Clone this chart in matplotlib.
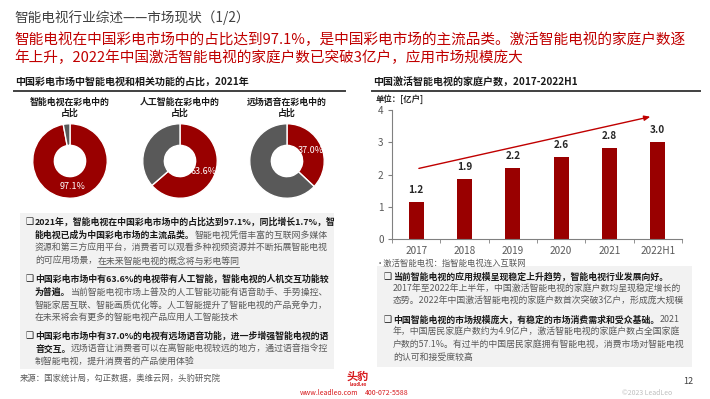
#!/usr/bin/env python3
"""Smart TV market overview slide: three donuts, a bar chart and text boxes."""

import math
import matplotlib
matplotlib.use("Agg")
import matplotlib.pyplot as plt
from matplotlib.patches import Rectangle

plt.rcParams["font.family"] = ["Noto Sans CJK SC", "DejaVu Sans"]

# --- data -------------------------------------------------------------------
donut_titles = ["智能电视在彩电中的\n占比", "人工智能在彩电中的\n占比", "远场语音在彩电中的\n占比"]
donut_shares = [97.1, 63.6, 37.0]

years = ["2017", "2018", "2019", "2020", "2021", "2022H1"]
households = [1.15, 1.86, 2.19, 2.55, 2.83, 3.02]
household_labels = ["1.2", "1.9", "2.2", "2.6", "2.8", "3.0"]
y_ticks = [0, 1, 2, 3, 4]

RED = "#990000"
GREY = "#595959"
TXT = "#595959"
DARK = "#1a1a1a"

W, H = 710, 399
fig = plt.figure(figsize=(W / 100, H / 100), dpi=100)
fig.patch.set_facecolor("white")

# pixel-coordinate canvas for all the slide text
bg = fig.add_axes([0, 0, 1, 1])
bg.set_xlim(0, W)
bg.set_ylim(H, 0)
bg.axis("off")

renderer = fig.canvas.get_renderer()


def rich_line(x, y, parts, size=6.4):
    """Write a line made of (text, bold, underline) pieces one after another."""
    for txt, bold, under in parts:
        t = bg.text(x, y, txt, fontsize=size, fontweight="bold" if bold else "normal",
                    color=DARK if bold else TXT, ha="left", va="center")
        w = t.get_window_extent(renderer=renderer).width
        if under:
            bg.plot([x, x + w], [y + 5.5, y + 5.5], color=TXT, lw=0.6)
        x += w


# header
bg.text(14, 18, "智能电视行业综述——市场现状（1/2）", fontsize=9.8, color="#404040",
        ha="left", va="center")
bg.text(14, 40, "智能电视在中国彩电市场中的占比达到97.1%，是中国彩电市场的主流品类。激活智能电视的家庭户数逐",
        fontsize=10.55, color="#C00000", ha="left", va="center")
bg.text(14, 58, "年上升，2022年中国激活智能电视的家庭户数已突破3亿户，应用市场规模庞大",
        fontsize=10.55, color="#C00000", ha="left", va="center")

# section headings
bg.text(15, 83, "中国彩电市场中智能电视和相关功能的占比，2021年", fontsize=7.2,
        fontweight="bold", color=DARK, ha="left", va="center")
bg.plot([14, 345], [91, 91], color="#404040", lw=1.4)
bg.text(373, 83, "中国激活智能电视的家庭户数，2017-2022H1", fontsize=7.2,
        fontweight="bold", color=DARK, ha="left", va="center")
bg.plot([372, 700], [91, 91], color="#404040", lw=1.4)

# --- donuts -----------------------------------------------------------------
centers = [70, 180, 287]
cy, rad = 161, 38
for cx, title, share in zip(centers, donut_titles, donut_shares):
    ax = fig.add_axes([(cx - rad) / W, (H - cy - rad) / H, 2 * rad / W, 2 * rad / H])
    ax.pie([share, 100 - share], colors=[RED, GREY], startangle=90, counterclock=False,
           wedgeprops=dict(width=0.58, edgecolor="white", linewidth=1.0), radius=1)
    ax.set_xlim(-1.02, 1.02)
    ax.set_ylim(-1.02, 1.02)
    ax.set_aspect("equal")
    ang = math.radians(90 - share * 3.6 / 2)
    ax.text(0.68 * math.cos(ang), 0.68 * math.sin(ang), f"{share:.1f}%", color="white",
            fontsize=6.5, ha="center", va="center")
    bg.text(cx, 107.5, title, fontsize=6.4, fontweight="bold", color=DARK,
            ha="center", va="center", linespacing=1.25)

# --- bar chart --------------------------------------------------------------
x0, x1, ytop, ybot = 392, 682, 110, 239
bax = fig.add_axes([x0 / W, (H - ybot) / H, (x1 - x0) / W, (ybot - ytop) / H])
pos = list(range(len(years)))
bax.bar(pos, households, width=0.31, color=RED)
for p, v, lab in zip(pos, households, household_labels):
    bax.annotate(lab, (p, v), xytext=(0, 5), textcoords="offset points", ha="center",
                 va="bottom", fontsize=7.2, fontweight="bold", color="#262626")
bax.set_xlim(-0.5, len(years) - 0.5)
bax.set_ylim(0, 4)
bax.set_yticks(y_ticks)
bax.set_xticks(pos)
bax.set_xticklabels(years)
bax.set_xticks([p - 0.5 for p in pos] + [len(years) - 0.5], minor=True)
bax.tick_params(axis="x", which="major", length=0, labelsize=7.2, labelcolor=TXT, pad=5)
bax.tick_params(axis="x", which="minor", length=3, color="#808080")
bax.tick_params(axis="y", length=3, color="#808080", labelsize=7.2, labelcolor=TXT, pad=3)
for s in ["top", "right"]:
    bax.spines[s].set_visible(False)
for s in ["left", "bottom"]:
    bax.spines[s].set_color("#808080")
    bax.spines[s].set_linewidth(0.8)
bax.annotate("", xy=(4.9, 3.81), xytext=(0.0, 2.17),
             arrowprops=dict(arrowstyle="-|>,head_length=0.35,head_width=0.15",
                             color="#C00000", lw=1.0))

bg.text(376, 99, "单位：[亿户]", fontsize=6, fontweight="bold", color="#262626",
        ha="left", va="center")
bg.text(376, 263, "•激活智能电视：指智能电视连入互联网", fontsize=6, color=TXT,
        ha="left", va="center")

# --- left text box ----------------------------------------------------------
bg.add_patch(Rectangle((20, 213), 314, 156, facecolor="#F2F2F2", edgecolor="none"))
left_lines = [
    (222, True, [("2021年，智能电视在中国彩电市场中的占比达到97.1%，同比增长1.7%，智", True, False)]),
    (235, False, [("能电视已成为中国彩电市场的主流品类。", True, False),
                  ("智能电视凭借丰富的互联网多媒体", False, False)]),
    (248, False, [("资源和第三方应用平台，消费者可以观看多种视频资源并不断拓展智能电视", False, False)]),
    (261, False, [("的可应用场景，", False, False), ("在未来智能电视的概念将与彩电等同", False, True)]),
    (279, True, [("中国彩电市场中有63.6%的电视带有人工智能，智能电视的人机交互功能较", True, False)]),
    (292, False, [("为普遍。", True, False),
                  ("当前智能电视市场上普及的人工智能功能有语音助手、手势操控、", False, False)]),
    (305, False, [("智能家居互联、智能画质优化等。人工智能提升了智能电视的产品竞争力，", False, False)]),
    (318, False, [("在未来将会有更多的智能电视产品应用人工智能技术", False, False)]),
    (336, True, [("中国彩电市场中有37.0%的电视有远场语音功能，进一步增强智能电视的语", True, False)]),
    (349, False, [("音交互。", True, False),
                  ("远场语音让消费者可以在离智能电视较远的地方，通过语音指令控", False, False)]),
    (362, False, [("制智能电视，提升消费者的产品使用体验", False, False)]),
]
for y, bullet, parts in left_lines:
    if bullet:
        bg.text(25, y, "❑", fontsize=6.5, color=DARK, ha="left", va="center")
    rich_line(35, y, parts)

# --- right text box ---------------------------------------------------------
bg.add_patch(Rectangle((377, 266), 315, 101, facecolor="#F2F2F2", edgecolor="none"))
right_lines = [
    (277, True, [("当前智能电视的应用规模呈现稳定上升趋势，智能电视行业发展向好。", True, False)]),
    (289, False, [("2017年至2022年上半年，中国激活智能电视的家庭户数均呈现稳定增长的", False, False)]),
    (301, False, [("态势。2022年中国激活智能电视的家庭户数首次突破3亿户，形成庞大规模", False, False)]),
    (320, True, [("中国智能电视的市场规模庞大，有稳定的市场消费需求和受众基础。", True, False),
                 ("2021", False, False)]),
    (332.5, False, [("年，中国居民家庭户数约为4.9亿户，激活智能电视的家庭户数占全国家庭", False, False)]),
    (345, False, [("户数的57.1%。有过半的中国居民家庭拥有智能电视，消费市场对智能电视", False, False)]),
    (357, False, [("的认可和接受度较高", False, False)]),
]
for y, bullet, parts in right_lines:
    if bullet:
        bg.text(383, y, "❑", fontsize=6.5, color=DARK, ha="left", va="center")
    rich_line(393, y, parts)

# --- footer -----------------------------------------------------------------
bg.text(20, 378, "来源：国家统计局，勾正数据，奥维云网，头豹研究院", fontsize=6, color=TXT,
        ha="left", va="center")
bg.text(347, 376, "头豹", fontsize=8, fontweight="bold", color="#D7191C", ha="left", va="center")
bg.text(350, 384, "LeadLeo", fontsize=3, fontweight="bold", color="#D7191C", ha="left", va="center")
bg.text(300, 393, "www.leadleo.com", fontsize=5, color="#D7191C", ha="left", va="center")
bg.text(365, 393, "400-072-5588", fontsize=5, color="#D7191C", ha="left", va="center")
bg.text(688, 382, "12", fontsize=6.5, color="#404040", ha="center", va="center")
bg.text(622, 393, "©2023 LeadLeo", fontsize=5, color="#BFBFBF", ha="left", va="center")

fig.savefig("out.png", dpi=100)
